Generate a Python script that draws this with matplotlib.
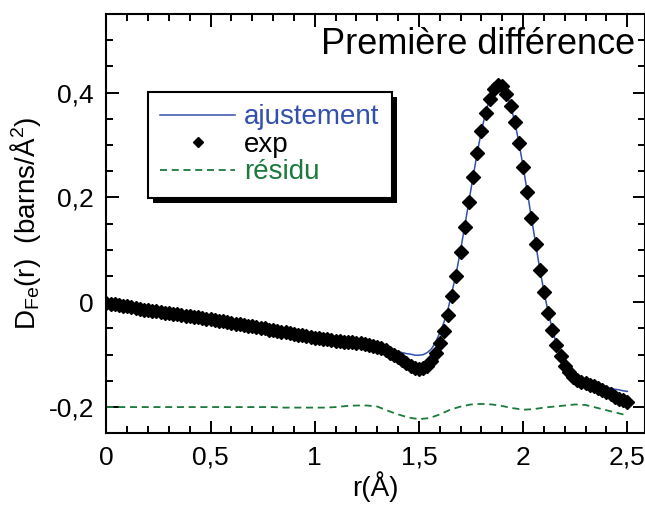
import numpy as np
import matplotlib
matplotlib.use("Agg")
import matplotlib.pyplot as plt
from matplotlib.patches import Rectangle
from matplotlib.ticker import MultipleLocator, FuncFormatter

plt.rcParams['font.family'] = ['Liberation Sans', 'DejaVu Sans']
plt.rcParams['mathtext.default'] = 'regular'

# === Données ===
r = np.round(np.arange(0, 2.501, 0.02), 2)

d_exp = [
    -0.002, -0.003, -0.004, -0.005, -0.007, -0.008, -0.009, -0.011, -0.012, -0.014,
    -0.015, -0.016, -0.017, -0.019, -0.020, -0.021, -0.022, -0.023, -0.025, -0.026,
    -0.027, -0.028, -0.029, -0.030, -0.031, -0.032, -0.034, -0.035, -0.036, -0.038,
    -0.039, -0.041, -0.042, -0.043, -0.045, -0.046, -0.047, -0.049, -0.050, -0.052,
    -0.053, -0.055, -0.056, -0.057, -0.059, -0.060, -0.062, -0.063, -0.065, -0.066,
    -0.068, -0.069, -0.070, -0.071, -0.072, -0.073, -0.074, -0.075, -0.075, -0.076,
    -0.077, -0.078, -0.079, -0.081, -0.083, -0.085, -0.088, -0.091, -0.096, -0.100,
    -0.105, -0.110, -0.115, -0.121, -0.125, -0.128, -0.126, -0.121, -0.112, -0.097,
    -0.078, -0.055, -0.025, 0.012, 0.051, 0.095, 0.144, 0.191, 0.239, 0.285,
    0.326, 0.361, 0.388, 0.407, 0.415, 0.412, 0.398, 0.375, 0.344, 0.304,
    0.259, 0.210, 0.161, 0.112, 0.062, 0.020, -0.020, -0.052, -0.082, -0.103,
    -0.121, -0.134, -0.142, -0.148, -0.152, -0.155, -0.157, -0.159, -0.163, -0.167,
    -0.171, -0.176, -0.180, -0.184, -0.187, -0.190,
]

d_fit = [
    -0.002, -0.003, -0.004, -0.005, -0.007, -0.008, -0.009, -0.011, -0.012, -0.014,
    -0.015, -0.016, -0.017, -0.019, -0.020, -0.021, -0.022, -0.023, -0.025, -0.026,
    -0.027, -0.028, -0.029, -0.030, -0.031, -0.032, -0.034, -0.035, -0.036, -0.038,
    -0.039, -0.041, -0.042, -0.043, -0.045, -0.046, -0.047, -0.049, -0.050, -0.052,
    -0.053, -0.055, -0.056, -0.057, -0.059, -0.060, -0.062, -0.063, -0.065, -0.066,
    -0.068, -0.069, -0.070, -0.071, -0.072, -0.073, -0.074, -0.075, -0.075, -0.076,
    -0.077, -0.078, -0.079, -0.081, -0.083, -0.085, -0.088, -0.091, -0.093, -0.094,
    -0.095, -0.096, -0.098, -0.099, -0.101, -0.101, -0.100, -0.096, -0.089, -0.076,
    -0.058, -0.038, -0.012, 0.022, 0.058, 0.100, 0.146, 0.193, 0.240, 0.286,
    0.327, 0.362, 0.389, 0.407, 0.414, 0.411, 0.397, 0.375, 0.344, 0.304,
    0.259, 0.210, 0.161, 0.112, 0.063, 0.021, -0.019, -0.051, -0.080, -0.101,
    -0.119, -0.132, -0.141, -0.147, -0.151, -0.154, -0.156, -0.158, -0.160, -0.162,
    -0.163, -0.164, -0.166, -0.167, -0.169, -0.170,
]

r_res = np.round(np.arange(0, 2.501, 0.05), 2)
d_res = [
    -0.200, -0.200, -0.200, -0.200, -0.200, -0.200, -0.200, -0.200, -0.200, -0.200,
    -0.200, -0.200, -0.200, -0.200, -0.200, -0.200, -0.200, -0.201, -0.201, -0.201,
    -0.201, -0.201, -0.200, -0.198, -0.197, -0.197, -0.199, -0.207, -0.214, -0.220,
    -0.223, -0.221, -0.214, -0.205, -0.199, -0.195, -0.194, -0.195, -0.198, -0.202,
    -0.205, -0.204, -0.201, -0.199, -0.197, -0.195, -0.196, -0.201, -0.206, -0.211,
    -0.216,
]

blue = '#3250ac'
green = '#1b7a3c'

fig = plt.figure(figsize=(6.45, 5.07), dpi=100)
ax = fig.add_axes([0.1651, 0.1454, 0.8349, 0.827])

ax.plot(r, d_fit, '-', color=blue, lw=1.1, label='ajustement', zorder=2)
ax.plot(r, d_exp, 'D', color='black', ms=7, mec='black', mew=1.0, lw=0, label='exp', zorder=3)
ax.plot(r_res, d_res, color=green, lw=1.3, dashes=(3.9, 2.6), label='résidu', zorder=2)

ax.set_xlim(0, 2.585)
ax.set_ylim(-0.25, 0.55)

ax.xaxis.set_major_locator(MultipleLocator(0.5))
ax.xaxis.set_minor_locator(MultipleLocator(0.1))
ax.yaxis.set_major_locator(MultipleLocator(0.2))
ax.yaxis.set_minor_locator(MultipleLocator(0.05))

fmt = FuncFormatter(lambda v, p: ('%g' % round(v, 2)).replace('.', ','))
ax.xaxis.set_major_formatter(fmt)
ax.yaxis.set_major_formatter(fmt)

ax.tick_params(which='both', direction='in', top=True, right=True, width=1.4, labelsize=19, pad=9)
ax.tick_params(which='major', length=9)
ax.tick_params(which='minor', length=5)
for s in ax.spines.values():
    s.set_linewidth(1.5)

ax.set_xlabel('r(Å)', fontsize=20, labelpad=1)
ax.set_ylabel('D$_{Fe}$(r)  (barns/Å$^{2}$)', fontsize=20, labelpad=4)

ax.text(0.982, 0.905, 'Première différence', transform=ax.transAxes,
        ha='right', va='baseline', fontsize=26)

leg = ax.legend(loc='upper left', bbox_to_anchor=(0.077, 0.814), borderaxespad=0,
                fontsize=20, frameon=True, fancybox=False, numpoints=1,
                handlelength=2.7, handletextpad=0.3, labelspacing=0.05,
                borderpad=0.45, framealpha=1, labelcolor='linecolor',
                markerscale=0.75)
leg.get_frame().set_edgecolor('black')
leg.get_frame().set_facecolor('white')
leg.get_frame().set_linewidth(1.5)
leg.set_zorder(5)

# ombre portée de la légende
fig.canvas.draw()
bb = leg.get_window_extent()
shadow = Rectangle((bb.x0 + 5, bb.y0 - 5), bb.width, bb.height, transform=None,
                   facecolor='black', edgecolor='none', zorder=4)
ax.add_artist(shadow)

plt.savefig("out.png", dpi=100)
